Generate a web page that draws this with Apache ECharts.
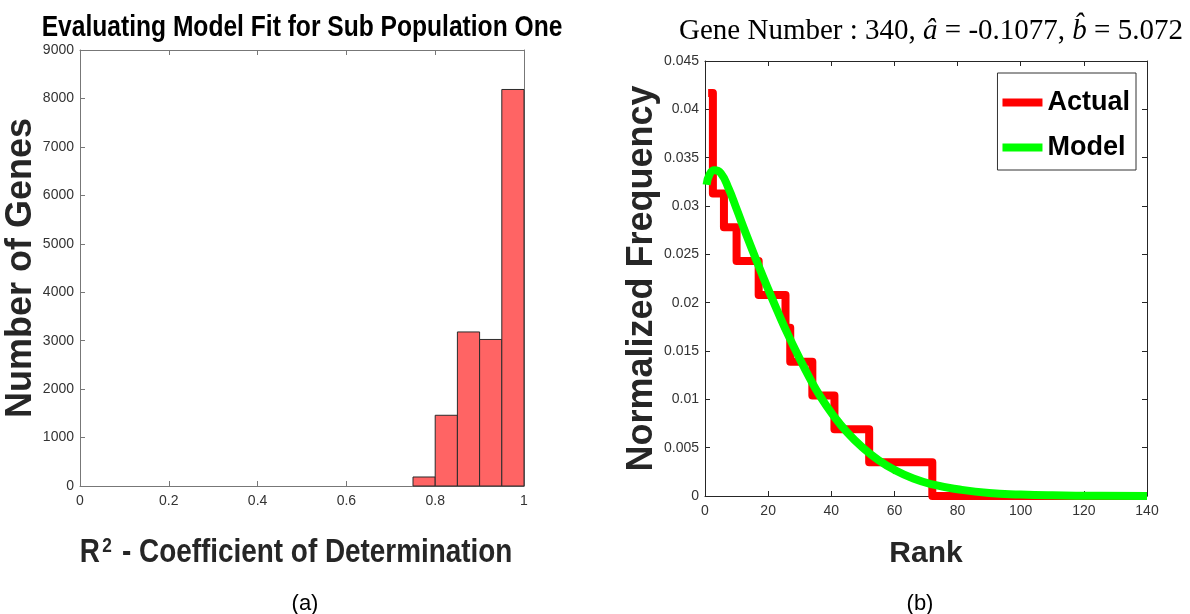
<!DOCTYPE html>
<html>
<head>
<meta charset="utf-8">
<script src="https://cdn.jsdelivr.net/npm/echarts@6/dist/echarts.min.js"></script>
<style>
  html, body { margin: 0; padding: 0; background: #fff; }
  #main { width: 1190px; height: 614px; }
</style>
</head>
<body>
<div id="main"></div>
<script>
// histogram (a)
const binStart = [0.75, 0.80, 0.85, 0.90, 0.95]
const binEnd = [0.80, 0.85, 0.90, 0.95, 1.00]
const geneCount = [186, 1460, 3180, 3025, 8185]

// (b) actual: step levels, each held from its rank to the next
const actualRank = [1, 2.5, 6, 10, 17, 25.5, 27, 34, 41, 52, 72, 140]
const actualFreq = [0.0417, 0.0313, 0.0278, 0.0243, 0.0208, 0.0174, 0.0139, 0.0104, 0.0069, 0.0035, 0, 0]

// (b) model curve
const modelRank = [0.5, 1.5, 3, 5, 7.5, 10, 13, 16.5, 20, 23, 26, 30, 33, 36.5, 40.5, 45, 50, 55, 60, 66, 72, 80, 90, 100, 110, 125, 140]
const modelFreq = [0.0322, 0.0333, 0.0337, 0.0334, 0.0318, 0.0297, 0.0271, 0.0242, 0.0214, 0.0191, 0.0169, 0.0142, 0.0123, 0.0103, 0.0084, 0.0066, 0.0050, 0.0037, 0.0027, 0.0018, 0.0012, 0.0007, 0.0003, 0.00015, 0.00007, 0.00002, 0.00001]

const sans = '"Liberation Sans", Arial, sans-serif'
const serif = '"Liberation Serif", "DejaVu Serif", serif'

const chart = echarts.init(document.getElementById('main'))

function boxAxis(gridIndex, pos, min, max, interval, color, extra) {
  return Object.assign({
    gridIndex: gridIndex,
    type: 'value',
    position: pos,
    min: min,
    max: max,
    interval: interval,
    splitLine: { show: false },
    axisLine: { show: true, onZero: false, lineStyle: { color: color, width: 1 } },
    axisTick: { show: true, inside: true, length: 5, lineStyle: { color: color } },
    axisLabel: { show: false }
  }, extra || {})
}

const labelStyle = {
  show: true, color: '#333', fontSize: 14, fontFamily: sans, margin: 8,
  formatter: v => String(v)
}

chart.setOption({
  animation: false,
  backgroundColor: '#fff',
  title: [
    {
      text: '{n|Gene Number : 340, }{i|â}{n| = -0.1077, }{i|b̂}{n| = 5.072}',
      left: 926, top: 12, textAlign: 'center',
      textStyle: {
        fontWeight: 'normal',
        rich: {
          n: { fontFamily: serif, fontSize: 29, fontWeight: 'normal', color: '#000' },
          i: { fontFamily: serif, fontSize: 29, fontWeight: 'normal', fontStyle: 'italic', color: '#000' }
        }
      }
    },
    {
      text: '(a)', left: 300, top: 588, textAlign: 'center',
      textStyle: { fontFamily: sans, fontWeight: 'normal', fontSize: 22, color: '#000' }
    },
    {
      text: '(b)', left: 915, top: 588, textAlign: 'center',
      textStyle: { fontFamily: sans, fontWeight: 'normal', fontSize: 22, color: '#000' }
    }
  ],
  // narrow bold texts of the left panel (no narrow font installed, so squeeze)
  graphic: [
    {
      type: 'text', x: 302, y: 28, scaleX: 0.82,
      style: {
        text: 'Evaluating Model Fit for Sub Population One',
        font: 'bold 30px ' + sans, fill: '#000',
        align: 'center', verticalAlign: 'middle'
      }
    },
    {
      type: 'text', x: 296, y: 553, scaleX: 0.82,
      style: {
        text: '{r|R}{s|2}{r| - Coefficient of Determination}',
        align: 'center', verticalAlign: 'middle',
        rich: {
          r: { font: 'bold 34px ' + sans, fill: '#262626' },
          s: { font: 'bold 21px ' + sans, fill: '#262626', verticalAlign: 'top', padding: [0, 3, 12, 3] }
        }
      }
    }
  ],
  legend: {
    data: ['Actual', 'Model'],
    orient: 'vertical',
    right: 54,
    top: 73,
    padding: [16, 6, 9, 5],
    itemGap: 18,
    itemWidth: 40,
    itemHeight: 8,
    itemTextGap: 4,
    icon: 'rect',
    borderColor: '#333',
    borderWidth: 1,
    borderRadius: 0,
    backgroundColor: '#fff',
    textStyle: { fontFamily: sans, fontWeight: 'bold', fontSize: 27, color: '#000' }
  },
  grid: [
    { left: 80, right: 666, top: 50, bottom: 128 },
    { left: 705, right: 43, top: 61, bottom: 118 }
  ],
  xAxis: [
    boxAxis(0, 'bottom', 0, 1, 0.2, '#777', { axisLabel: labelStyle }),
    boxAxis(0, 'top', 0, 1, 0.2, '#777'),
    boxAxis(1, 'bottom', 0, 140, 20, '#262626', {
      axisLabel: labelStyle,
      name: 'Rank',
      nameLocation: 'middle',
      nameGap: 43,
      nameTextStyle: { fontFamily: sans, fontWeight: 'bold', fontSize: 30, color: '#262626' }
    }),
    boxAxis(1, 'top', 0, 140, 20, '#262626')
  ],
  yAxis: [
    boxAxis(0, 'left', 0, 9000, 1000, '#777', {
      axisLabel: Object.assign({}, labelStyle, { margin: 6 }),
      name: 'Number of Genes',
      nameLocation: 'middle',
      nameGap: 25,
      nameTextStyle: { fontFamily: sans, fontWeight: 'bold', fontSize: 36, color: '#262626' }
    }),
    boxAxis(0, 'right', 0, 9000, 1000, '#777'),
    boxAxis(1, 'left', 0, 0.045, 0.005, '#262626', {
      axisLabel: Object.assign({}, labelStyle, { margin: 6 }),
      name: 'Normalized Frequency',
      nameLocation: 'middle',
      nameGap: 35,
      nameTextStyle: { fontFamily: sans, fontWeight: 'bold', fontSize: 36, color: '#262626' }
    }),
    boxAxis(1, 'right', 0, 0.045, 0.005, '#262626')
  ],
  series: [
    {
      name: 'Genes',
      type: 'custom',
      xAxisIndex: 0,
      yAxisIndex: 0,
      data: binStart.map((s, i) => [s, binEnd[i], geneCount[i]]),
      renderItem(params, api) {
        const p0 = api.coord([api.value(0), api.value(2)])
        const p1 = api.coord([api.value(1), 0])
        return {
          type: 'rect',
          shape: { x: p0[0], y: p0[1], width: p1[0] - p0[0], height: p1[1] - p0[1] },
          style: { fill: '#FF6464', stroke: '#2b2b2b', lineWidth: 1 }
        }
      }
    },
    {
      name: 'Actual',
      type: 'line',
      xAxisIndex: 2,
      yAxisIndex: 2,
      step: 'end',
      showSymbol: false,
      symbol: 'none',
      color: '#FF0000',
      lineStyle: { color: '#FF0000', width: 8, join: 'round' },
      data: actualRank.map((r, i) => [r, actualFreq[i]])
    },
    {
      name: 'Model',
      type: 'line',
      xAxisIndex: 2,
      yAxisIndex: 2,
      smooth: 0.5,
      showSymbol: false,
      symbol: 'none',
      color: '#00FF00',
      lineStyle: { color: '#00FF00', width: 8, join: 'round' },
      data: modelRank.map((r, i) => [r, modelFreq[i]])
    }
  ]
})
</script>
</body>
</html>
